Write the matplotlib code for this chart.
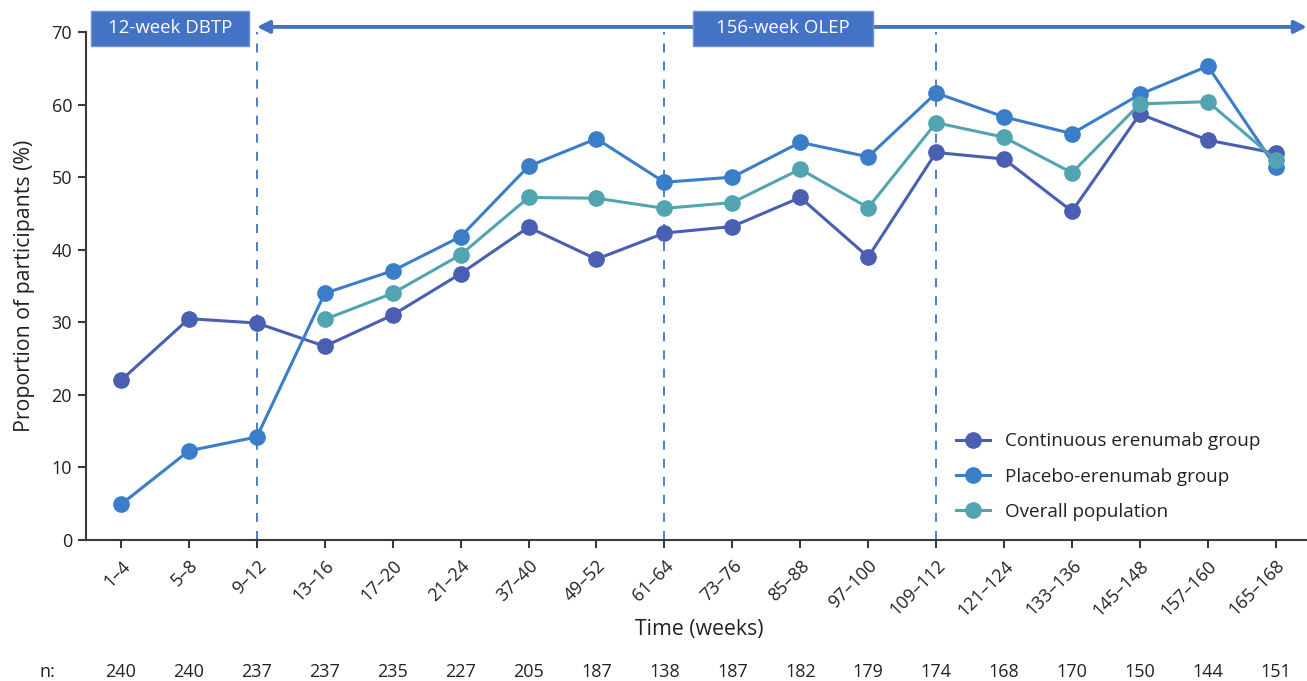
import matplotlib
matplotlib.use("Agg")
import matplotlib.pyplot as plt
import matplotlib.transforms as mtransforms
from matplotlib.patches import Rectangle, FancyArrowPatch

plt.rcParams['font.family'] = ['Open Sans', 'DejaVu Sans']

weeks = ['1–4', '5–8', '9–12', '13–16', '17–20', '21–24', '37–40', '49–52', '61–64',
         '73–76', '85–88', '97–100', '109–112', '121–124', '133–136', '145–148',
         '157–160', '165–168']
n_counts = [240, 240, 237, 237, 235, 227, 205, 187, 138, 187, 182, 179, 174, 168,
            170, 150, 144, 151]

continuous = [22.0, 30.5, 29.9, 26.7, 31.0, 36.7, 43.1, 38.7, 42.3, 43.2, 47.2, 39.0,
              53.4, 52.5, 45.3, 58.7, 55.1, 53.3]
placebo = [4.9, 12.3, 14.2, 34.0, 37.1, 41.8, 51.5, 55.3, 49.3, 50.0, 54.8, 52.8,
           61.6, 58.3, 56.0, 61.4, 65.3, 51.4]
# overall population starts at the open-label phase (13-16 weeks)
overall = [30.4, 34.0, 39.3, 47.2, 47.1, 45.7, 46.5, 51.1, 45.8, 57.5, 55.5, 50.6,
           60.1, 60.4, 52.4]

phase_marks = [2, 8, 12]

c_cont = '#4a5fb1'
c_plac = '#3a7dc9'
c_over = '#53a4b1'
c_box = '#4472c4'
c_text = '#222222'

fig = plt.figure(figsize=(13.07, 6.81), dpi=100)
ax = fig.add_axes([0.0658, 0.207, 0.9342, 0.746])

x = list(range(len(weeks)))
x_over = x[3:]

ms = 11
lw = 2.2
ax.plot(x, continuous, '-o', color=c_cont, lw=lw, ms=ms, label='Continuous erenumab group', zorder=3)
ax.plot(x, placebo, '-o', color=c_plac, lw=lw, ms=ms, label='Placebo-erenumab group', zorder=4)
ax.plot(x_over, overall, '-o', color=c_over, lw=lw, ms=ms, label='Overall population', zorder=5)

for xv in phase_marks:
    ax.plot([xv, xv], [0, 70], ls=(0, (5, 5)), color=c_box, lw=1.3, zorder=1, clip_on=False)

ax.set_xlim(-0.515, 17.46)
ax.set_ylim(0, 70)
ax.set_yticks(range(0, 71, 10))
ax.set_xticks(x)
ax.set_xticklabels(weeks, rotation=45, ha='right', rotation_mode='anchor')

for s in ['top', 'right']:
    ax.spines[s].set_visible(False)
for s in ['left', 'bottom']:
    ax.spines[s].set_color('#3a3a3a')
    ax.spines[s].set_linewidth(1.5)
ax.tick_params(axis='both', length=6, width=1.5, color='#3a3a3a', labelsize=13,
               labelcolor=c_text, direction='out', pad=4)
ax.tick_params(axis='x', pad=6)

# axis titles placed in figure coordinates
fig.text(25 / 1307, (681 - 286) / 681, 'Proportion of participants (%)', rotation=90,
         ha='center', va='center', fontsize=15.3, color=c_text)
fig.text(699 / 1307, (681 - 630) / 681, 'Time (weeks)', ha='center', va='center',
         fontsize=15.3, color=c_text)

# phase banners and arrow
ax.add_patch(Rectangle((-0.44, 68.1), 2.32, 4.8, facecolor=c_box, edgecolor='#6f92d4',
                       lw=1, clip_on=False, zorder=6))
ax.text(0.72, 70.5, '12-week DBTP', color='white', fontsize=13.4, ha='center', va='center',
        zorder=7, clip_on=False)
arrow = FancyArrowPatch((2.0, 70.7), (17.46, 70.7), arrowstyle='<|-|>', mutation_scale=18,
                        color=c_box, lw=2.8, clip_on=False, zorder=5, shrinkA=0, shrinkB=0)
ax.add_patch(arrow)
ax.add_patch(Rectangle((8.42, 68.1), 2.65, 4.8, facecolor=c_box, edgecolor='#6f92d4',
                       lw=1, clip_on=False, zorder=6))
ax.text(9.745, 70.5, '156-week OLEP', color='white', fontsize=13.4, ha='center', va='center',
        zorder=7, clip_on=False)

ax.legend(loc='lower right', bbox_to_anchor=(0.976, 0.004), frameon=False, fontsize=13.6,
          handlelength=1.8, labelspacing=0.92, handletextpad=0.8, labelcolor=c_text)

# participant counts under each period
trans = mtransforms.blended_transform_factory(ax.transData, fig.transFigure)
for xv, n in zip(x, n_counts):
    ax.text(xv, 9 / 681, str(n), transform=trans, ha='center', va='center', fontsize=13,
            color=c_text)
fig.text(0.03, 9 / 681, 'n:', ha='left', va='center', fontsize=13, color=c_text)

fig.savefig('out.png', dpi=100)
